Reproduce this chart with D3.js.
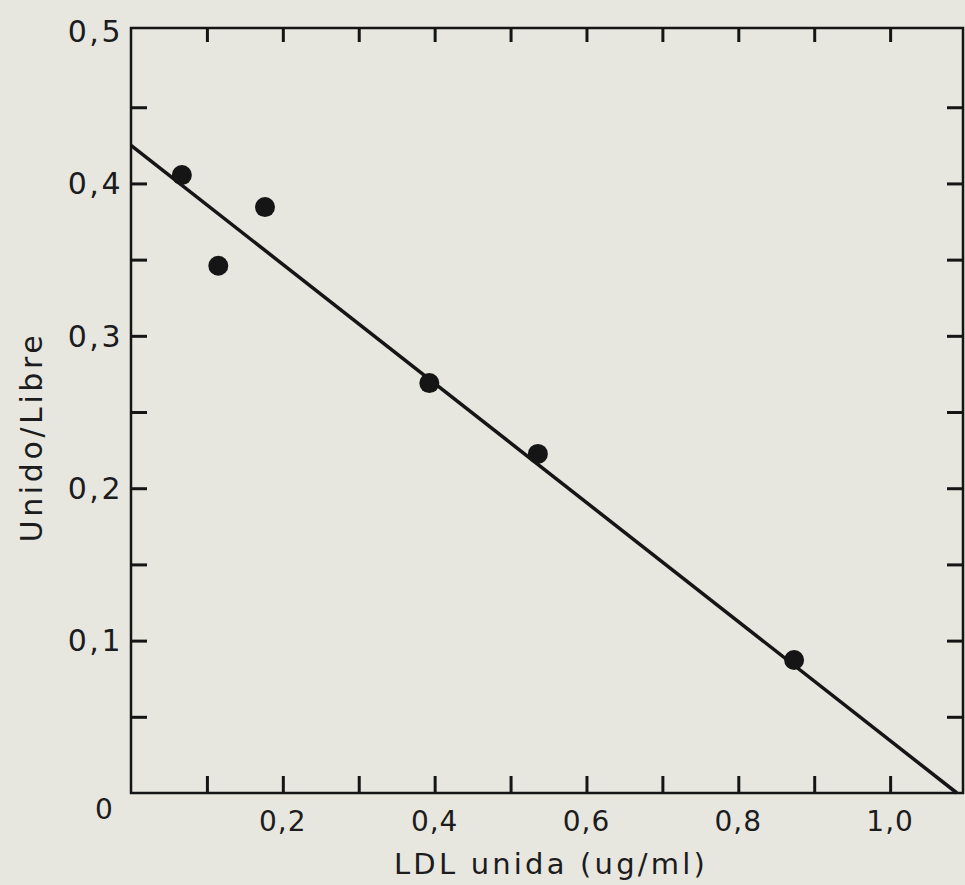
<!DOCTYPE html>
<html>
<head>
<meta charset="utf-8">
<script src="https://cdn.jsdelivr.net/npm/d3@7"></script>
<style>
  html, body { margin: 0; padding: 0; background: #e7e7e0; }
  svg { display: block; }
  text { font-family: "DejaVu Sans", sans-serif; fill: #1c1c1c; white-space: pre; }
</style>
</head>
<body>
<script>
// ---- data ----
const pointsX = [0.067, 0.115, 0.1765, 0.393, 0.536, 0.8735];
const pointsY = [0.4055, 0.346, 0.3845, 0.269, 0.2225, 0.0873];
const fitLineX = [0, 1.088];
const fitLineY = [0.425, 0];
const xTicks = [0.1, 0.2, 0.3, 0.4, 0.5, 0.6, 0.7, 0.8, 0.9, 1.0];
const xTickLabels = ["0,2", "0,4", "0,6", "0,8", "1,0"];
const xLabelValues = [0.2, 0.4, 0.6, 0.8, 1.0];
const yTicks = [0.05, 0.1, 0.15, 0.2, 0.25, 0.3, 0.35, 0.4, 0.45];
const yLabelValues = [0.1, 0.2, 0.3, 0.4, 0.5];
const yTickLabels = ["0,1", "0,2", "0,3", "0,4", "0,5"];
const xTitle = "LDL unida (ug/ml)";
const yTitle = "Unido/Libre";

(function () {
const W = 965, H = 885;
const svg = d3.select("body").append("svg").attr("width", W).attr("height", H);
svg.append("rect").attr("width", W).attr("height", H).attr("fill", "#e7e7e0");

const x = d3.scaleLinear().domain([0, 1.096]).range([131, 963]);
const y = d3.scaleLinear().domain([0, 0.502]).range([793, 28]);

const ink = "#151515";

// frame
svg.append("rect")
  .attr("x", x(0)).attr("y", y(0.502))
  .attr("width", x(1.096) - x(0)).attr("height", y(0) - y(0.502))
  .attr("fill", "none").attr("stroke", ink).attr("stroke-width", 2.5);

const gBottom = svg.append("g").attr("transform", `translate(0,${y(0)})`)
  .call(d3.axisBottom(x).tickValues(xTicks).tickSizeInner(-17).tickSizeOuter(0).tickFormat(""));
const gTop = svg.append("g").attr("transform", `translate(0,${y(0.502)})`)
  .call(d3.axisTop(x).tickValues(xTicks).tickSizeInner(-14).tickSizeOuter(0).tickFormat(""));
const gLeft = svg.append("g").attr("transform", `translate(${x(0)},0)`)
  .call(d3.axisLeft(y).tickValues(yTicks).tickSizeInner(-16).tickSizeOuter(0).tickFormat(""));
const gRight = svg.append("g").attr("transform", `translate(${x(1.096)},0)`)
  .call(d3.axisRight(y).tickValues(yTicks).tickSizeInner(-16).tickSizeOuter(0).tickFormat(""));

[gBottom, gTop, gLeft, gRight].forEach(g => {
  g.select(".domain").remove();
  g.selectAll(".tick line").attr("stroke", ink).attr("stroke-width", 3);
});

// x tick labels
svg.append("g").selectAll("text").data(xLabelValues).join("text")
  .attr("x", d => x(d)).attr("y", y(0) + 38)
  .attr("text-anchor", "middle").attr("font-size", 28)
  .attr("letter-spacing", 1)
  .text((d, i) => xTickLabels[i]);

// y tick labels
svg.append("g").selectAll("text").data(yLabelValues).join("text")
  .attr("x", x(0) - 8).attr("y", d => y(d))
  .attr("dy", "0.36em")
  .attr("text-anchor", "end").attr("font-size", 30)
  .attr("letter-spacing", 2.5)
  .text((d, i) => yTickLabels[i]);

// origin label
svg.append("text").attr("x", 104).attr("y", y(0) + 26)
  .attr("text-anchor", "middle").attr("font-size", 28).text("0");

// axis titles
svg.append("text").attr("x", 551).attr("y", 874)
  .attr("text-anchor", "middle").attr("font-size", 29)
  .attr("letter-spacing", 3.2).text(xTitle);
svg.append("text")
  .attr("transform", `translate(42,437) rotate(-90)`)
  .attr("text-anchor", "middle").attr("font-size", 30)
  .attr("letter-spacing", 3.6).text(yTitle);

// fitted line
const lineData = fitLineX.map((d, i) => [d, fitLineY[i]]);
svg.append("path").datum(lineData)
  .attr("d", d3.line().x(d => x(d[0])).y(d => y(d[1])))
  .attr("fill", "none").attr("stroke", ink).attr("stroke-width", 3.5);

// points
svg.append("g").selectAll("circle").data(pointsX.map((d, i) => [d, pointsY[i]])).join("circle")
  .attr("cx", d => x(d[0])).attr("cy", d => y(d[1])).attr("r", 10)
  .attr("fill", ink);
})();
</script>
</body>
</html>
